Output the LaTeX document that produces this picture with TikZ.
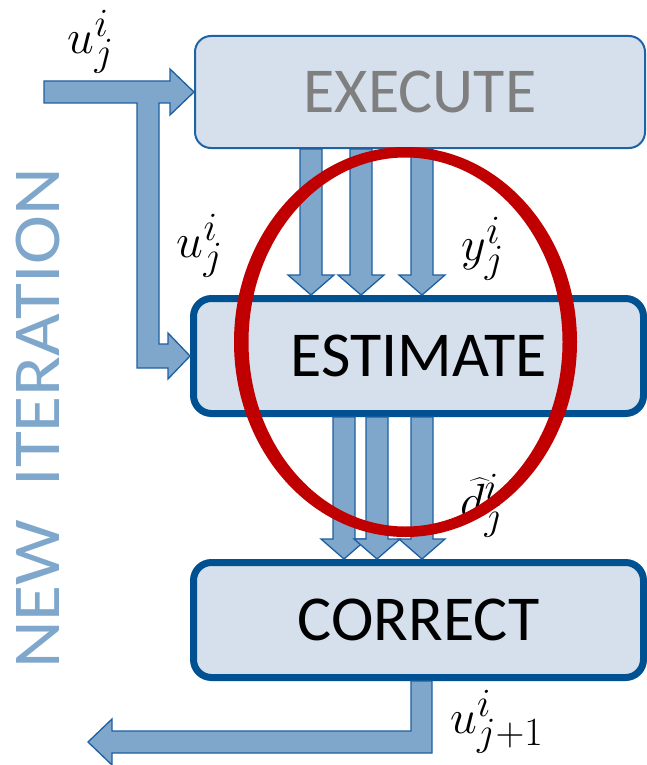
\documentclass[tikz,border=0pt]{standalone}
\usepackage{fontspec}
\setmainfont{Carlito}
\usetikzlibrary{calc}
\definecolor{boxfill}{RGB}{213,224,236}
\definecolor{boxline}{RGB}{0,81,145}
\definecolor{execline}{RGB}{30,100,165}
\definecolor{arrfill}{RGB}{127,167,203}
\definecolor{arrline}{RGB}{30,95,160}
\definecolor{ringred}{RGB}{192,0,0}
\definecolor{execgray}{RGB}{127,127,127}
\tikzset{
  stagebox/.style={draw=boxline, line width=7pt, fill=boxfill, rounded corners=18pt,
    minimum width=450pt, minimum height=115pt, inner sep=0pt,
    font=\fontsize{64}{70}\selectfont},
  blk/.style={draw=arrline, line width=1.3pt, fill=arrfill, line join=miter},
  mlabel/.style={inner sep=0pt, font=\fontsize{24.88}{30}\selectfont}
}
\newcommand{\mlab}[1]{\scalebox{1.93}{$#1$}}
\newcommand{\downblk}[3]{%
  \draw[blk] let \p1=(#2.south), \p2=(#3.north) in
   (#1-11,\y1) -- (#1+11,\y1) -- (#1+11,\y2+20pt) -- (#1+23,\y2+20pt) -- (#1,\y2)
   -- (#1-23,\y2+20pt) -- (#1-11,\y2+20pt) -- cycle;}
\begin{document}
\begin{tikzpicture}[x=1pt,y=-1pt]
\useasboundingbox (0,0) rectangle (647,765);
% boxes
\node[draw=execline, line width=2pt, fill=boxfill, rounded corners=16pt,
  minimum width=450pt, minimum height=112pt, inner sep=0pt,
  font=\fontsize{64}{70}\selectfont, text=execgray] (exec) at (420,92) {EXECUTE};
\node[stagebox] (est) at (418.5,356) {ESTIMATE};
\node[stagebox] (corr) at (418.5,620) {CORRECT};
% vertical title
\node[rotate=90, text=arrfill, inner sep=0pt, font=\fontsize{67}{70}\selectfont]
  (title) at (38,418.5) {\scalebox{1.10}[1]{NEW\hspace{0.45em}ITERATION}};
% input arrow (splits to EXECUTE and ESTIMATE)
\coordinate (in) at (44,92);
\draw[blk] let \p1=(exec.west), \p2=(est.west), \p0=(in) in
  (\x0,\y1+11pt) -- (\x1-24pt,\y1+11pt) -- (\x1-24pt,\y1+23pt) -- (\p1)
  -- (\x1-24pt,\y1-23pt) -- (\x1-24pt,\y1-11pt) -- (159,\y1-11pt)
  -- (159,\y2+12pt) -- (\x2-22pt,\y2+12pt) -- (\x2-22pt,\y2+23pt) -- (\p2)
  -- (\x2-22pt,\y2-23pt) -- (\x2-22pt,\y2-12pt) -- (137,\y2-12pt)
  -- (137,\y1-11pt) -- (\x0,\y1-11pt) -- cycle;
% EXECUTE -> ESTIMATE
\downblk{311}{exec}{est}
\downblk{361}{exec}{est}
\downblk{422}{exec}{est}
% ESTIMATE -> CORRECT
\downblk{344}{est}{corr}
\downblk{377}{est}{corr}
\downblk{422}{est}{corr}
% output arrow
\coordinate (out) at (88,742);
\draw[blk] let \p1=(corr.south), \p0=(out) in
  (411,\y1) -- (432,\y1) -- (432,\y0-11pt) -- (\x0+24pt,\y0-11pt) -- (\x0+24pt,\y0-23pt)
  -- (\p0) -- (\x0+24pt,\y0+23pt) -- (\x0+24pt,\y0+11pt) -- (411,\y0+11pt) -- cycle;
% labels
\node[mlabel] (l1) at (91,42) {\mlab{u_j^i}};
\node[mlabel] (l2) at (200,246) {\mlab{u_j^i}};
\node[mlabel] (l3) at (483,249) {\mlab{y_j^i}};
\node[mlabel] (l4) at (482,506) {\mlab{\widehat{d}_j^i}};
\node[mlabel] (l5) at (497,722) {\mlab{u_{j+1}^i}};
% red ellipse
\fill[ringred, even odd rule] (405.5,342) ellipse [x radius=171.5pt, y radius=195pt]
  (405.5,342) ellipse [x radius=157pt, y radius=184.5pt];
\end{tikzpicture}
\end{document}
